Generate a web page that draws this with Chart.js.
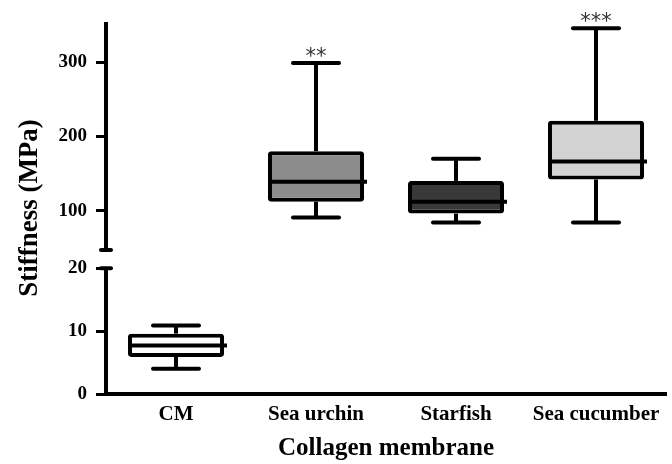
<!DOCTYPE html>
<html>
<head>
<meta charset="utf-8">
<script src="https://cdn.jsdelivr.net/npm/chart.js@4.4.0/dist/chart.umd.min.js"></script>
<style>
html, body { margin: 0; padding: 0; background: #fff; }
</style>
</head>
<body>
<canvas id="boxChart" width="672" height="464"></canvas>
<script>
// values (MPa)
var categories = ['CM', 'Sea urchin', 'Starfish', 'Sea cucumber'];
var whiskerLow = [4.0, 90.6, 83.9, 83.9];
var q1 = [5.9, 112, 96, 142];
var median = [7.7, 139, 112, 166];
var q3 = [9.6, 180, 140, 221];
var whiskerHigh = [10.9, 298.7, 169.8, 345.6];
var stars = ['', '**', '', '***'];
var upperTicks = [100, 200, 300];
var lowerTicks = [0, 10, 20];
var breakValue = 20;

var boxColors = ['#ffffff', '#8c8c8c', '#393939', '#d3d3d3'];
var serif = '"Liberation Serif", "Times New Roman", serif';

function onUpper(i) { return whiskerHigh[i] > breakValue; }

var upperData = categories.map(function(c, i){ return onUpper(i) ? [q1[i], q3[i]] : null; });
var lowerData = categories.map(function(c, i){ return onUpper(i) ? null : [q1[i], q3[i]]; });

var boxStyle = {
	grouped: false,
	barPercentage: 0.686,
	categoryPercentage: 1,
	backgroundColor: boxColors,
	borderColor: '#000',
	borderWidth: 4,
	borderSkipped: false,
	borderRadius: 3
};

function yAxis(weight, min, max, ticks){
	return {
		type: 'linear',
		position: 'left',
		stack: 'y',
		stackWeight: weight,
		min: min,
		max: max,
		afterBuildTicks: function(scale){ scale.ticks = ticks.map(function(v){ return {value: v}; }); },
		afterFit: function(scale){ scale.width = 106; },
		grid: { display: true, drawOnChartArea: false, drawTicks: true, tickLength: 10, lineWidth: 3, color: '#000' },
		border: { display: false },
		ticks: { color: '#000', padding: 9, font: { family: serif, size: 19, weight: 'bold' } }
	};
}

function line(ctx, x1, y1, x2, y2){
	ctx.beginPath();
	ctx.moveTo(x1, y1);
	ctx.lineTo(x2, y2);
	ctx.stroke();
}

var boxExtras = {
	id: 'boxExtras',
	afterDatasetsDraw: function(chart){
		var ctx = chart.ctx;
		var xs = chart.scales.x, up = chart.scales.yUp, low = chart.scales.yLow;
		var area = chart.chartArea;
		ctx.save();
		ctx.strokeStyle = '#000';
		for (let i = 0; i < categories.length; i++) {
			let ys = onUpper(i) ? up : low;
			let bar = chart.getDatasetMeta(onUpper(i) ? 0 : 1).data[i];
			let cx = xs.getPixelForValue(i);
			let half = bar.width / 2;
			let yHi = ys.getPixelForValue(whiskerHigh[i]);
			let yLo = ys.getPixelForValue(whiskerLow[i]);
			ctx.lineWidth = 4;
			ctx.lineCap = 'butt';
			line(ctx, cx, ys.getPixelForValue(q3[i]), cx, yHi);
			line(ctx, cx, ys.getPixelForValue(q1[i]), cx, yLo);
			ctx.lineCap = 'round';
			line(ctx, cx - 23, yHi, cx + 23, yHi);
			line(ctx, cx - 23, yLo, cx + 23, yLo);
			ctx.lineCap = 'butt';
			let ym = ys.getPixelForValue(median[i]);
			line(ctx, cx - half + 2, ym, cx + half + 3, ym);
			if (stars[i]) {
				ctx.fillStyle = '#333';
				ctx.font = '21px "DejaVu Sans"';
				ctx.textAlign = 'center';
				ctx.textBaseline = 'alphabetic';
				ctx.fillText(stars[i], cx, yHi);
			}
		}
		// broken y axis line
		var ax = area.left;
		ctx.lineWidth = 4;
		ctx.lineCap = 'butt';
		var upBottom = up.getPixelForValue(up.min);
		var lowTop = low.getPixelForValue(breakValue);
		line(ctx, ax, up.getPixelForValue(up.max), ax, upBottom);
		line(ctx, ax, lowTop, ax, area.bottom + 2);
		ctx.lineCap = 'round';
		line(ctx, ax - 5, upBottom, ax + 5, upBottom);
		line(ctx, ax - 5, lowTop, ax + 5, lowTop);
		// y axis title
		ctx.fillStyle = '#000';
		ctx.font = 'bold 27px ' + serif;
		ctx.textAlign = 'center';
		ctx.textBaseline = 'middle';
		ctx.translate(30, (area.top + area.bottom) / 2);
		ctx.rotate(-Math.PI / 2);
		ctx.fillText('Stiffness (MPa)', 0, 0);
		ctx.restore();
	}
};

new Chart(document.getElementById('boxChart'), {
	type: 'bar',
	data: {
		labels: categories,
		datasets: [
			Object.assign({ label: 'upper', data: upperData, yAxisID: 'yUp' }, boxStyle),
			Object.assign({ label: 'lower', data: lowerData, yAxisID: 'yLow' }, boxStyle)
		]
	},
	options: {
		responsive: false,
		animation: false,
		devicePixelRatio: 1,
		layout: { padding: { top: 22, right: 6, left: 0, bottom: 0 } },
		plugins: { legend: { display: false }, tooltip: { enabled: false } },
		scales: {
			x: {
				type: 'category',
				grid: { display: false, drawTicks: false },
				border: { display: true, color: '#000', width: 4 },
				afterFit: function(scale){ scale.height = 70; },
				ticks: { color: '#000', padding: 8, font: { family: serif, size: 21, weight: 'bold' } },
				title: { display: true, text: 'Collagen membrane', color: '#000', padding: 0, font: { family: serif, size: 25, weight: 'bold' } }
			},
			yLow: yAxis(144, 0, 22.9, lowerTicks),
			yUp: yAxis(228, 47, 354, upperTicks)
		}
	},
	plugins: [boxExtras]
});
</script>
</body>
</html>
